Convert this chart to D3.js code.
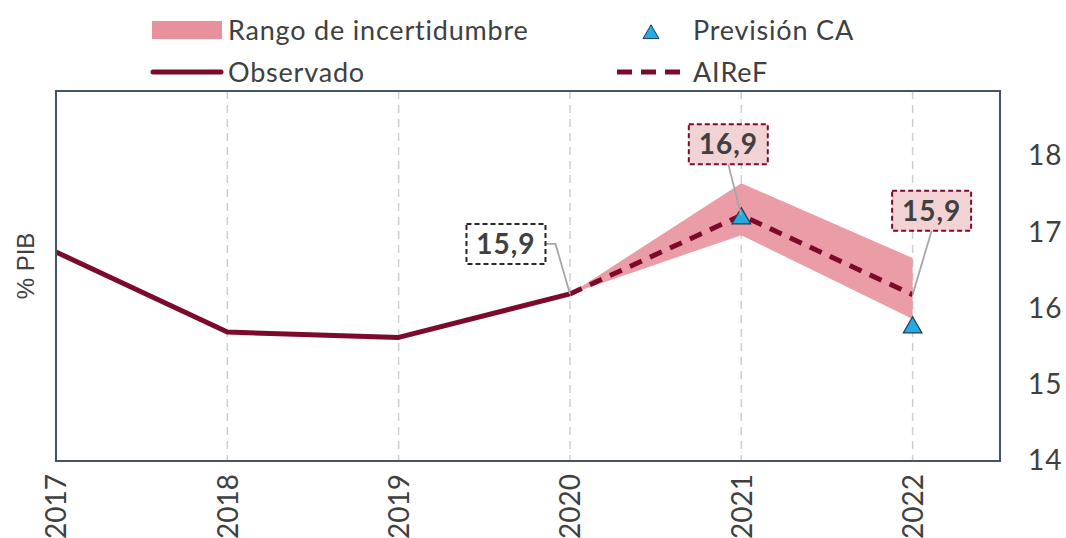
<!DOCTYPE html>
<html>
<head>
<meta charset="utf-8">
<script src="https://cdn.jsdelivr.net/npm/d3@7"></script>
<style>
  body { margin: 0; background: #fff; }
  svg { display: block; font-family: Lato, "Noto Sans", sans-serif; }
</style>
</head>
<body>
<div id="chart"></div>
<script>
// data
var years = [2017, 2018, 2019, 2020, 2021, 2022];
var observado = [
  {year: 2017, value: 16.74},
  {year: 2018, value: 15.69},
  {year: 2019, value: 15.62},
  {year: 2020, value: 16.19}
];
var airef = [
  {year: 2020, value: 16.19},
  {year: 2021, value: 17.22},
  {year: 2022, value: 16.18}
];
var rango = [
  {year: 2020, low: 16.19, high: 16.19},
  {year: 2021, low: 16.96, high: 17.64},
  {year: 2022, low: 15.86, high: 16.66}
];
var prevision = [
  {year: 2021, value: 17.18},
  {year: 2022, value: 15.75}
];
var yTicks = [14, 15, 16, 17, 18];
var etiquetas = [
  {year: 2020, value: 16.19, text: "15,9", tipo: "obs"},
  {year: 2021, value: 17.22, text: "16,9", tipo: "air"},
  {year: 2022, value: 16.18, text: "15,9", tipo: "air"}
];

var width = 1066, height = 538;
var margin = {top: 91, right: 66, bottom: 77, left: 56};
var w = width - margin.left - margin.right,
    h = height - margin.top - margin.bottom;

var darkRed = "#7c0a2b", pink = "#e8919d", blue = "#27a9e1";

var svg = d3.select("#chart").append("svg")
    .attr("width", width)
    .attr("height", height);

var g = svg.append("g")
    .attr("transform", "translate(" + margin.left + "," + margin.top + ")");

var x = d3.scaleLinear().domain([2017, 2022.51]).range([0, w]);
var y = d3.scaleLinear().domain([14, 18.85]).range([h, 0]);

// vertical grid
g.selectAll(".grid").data(years.slice(1)).enter().append("line")
    .attr("x1", function(d) { return x(d); })
    .attr("x2", function(d) { return x(d); })
    .attr("y1", 0).attr("y2", h)
    .attr("stroke", "#cfcfcf")
    .attr("stroke-width", 1.5)
    .attr("stroke-dasharray", "8,6");

// band
var area = d3.area()
    .x(function(d) { return x(d.year); })
    .y0(function(d) { return y(d.low); })
    .y1(function(d) { return y(d.high); });
g.append("path").datum(rango)
    .attr("d", area)
    .attr("fill", pink)
    .attr("opacity", 0.9);

var line = d3.line()
    .x(function(d) { return x(d.year); })
    .y(function(d) { return y(d.value); });

g.append("path").datum(observado)
    .attr("d", line)
    .attr("fill", "none")
    .attr("stroke", darkRed)
    .attr("stroke-width", 5)
    .attr("stroke-linejoin", "round");

g.append("path").datum(airef)
    .attr("d", line)
    .attr("fill", "none")
    .attr("stroke", darkRed)
    .attr("stroke-width", 5)
    .attr("stroke-dasharray", "13,9");

// triangles
var tri = d3.symbol().type(d3.symbolTriangle).size(150);
g.selectAll(".tri").data(prevision).enter().append("path")
    .attr("d", tri)
    .attr("transform", function(d) { return "translate(" + x(d.year) + "," + y(d.value) + ")"; })
    .attr("fill", blue)
    .attr("stroke", "#1f3a5a")
    .attr("stroke-width", 1.2);

// labels with leader lines
var boxOff = {
  2020: {dx: -64, dy: -50, lx: "right"},
  2021: {dx: -13, dy: -71, lx: "bottom"},
  2022: {dx: 19, dy: -84, lx: "bottom"}
};
var bw = 79, bh = 40;
etiquetas.forEach(function(d) {
  var px = x(d.year), py = y(d.value);
  var o = boxOff[d.year];
  var cx = px + o.dx, cy = py + o.dy;
  var pts;
  if (o.lx === "right") {
    pts = [[cx + bw / 2, cy], [cx + bw / 2 + 10, cy], [px, py]];
  } else {
    pts = [[cx, cy + bh / 2], [px, py]];
  }
  g.append("path")
      .attr("d", d3.line()(pts))
      .attr("fill", "none")
      .attr("stroke", "#a6a6a6")
      .attr("stroke-width", 1.8);
  g.append("rect")
      .attr("x", cx - bw / 2).attr("y", cy - bh / 2)
      .attr("width", bw).attr("height", bh)
      .attr("fill", d.tipo === "obs" ? "#fff" : "#f2d3d5")
      .attr("stroke", d.tipo === "obs" ? "#262626" : darkRed)
      .attr("stroke-width", 2)
      .attr("stroke-dasharray", "5,3");
  g.append("text")
      .attr("x", cx).attr("y", cy + 10)
      .attr("text-anchor", "middle")
      .style("font-size", "28px")
      .style("font-weight", "bold")
      .style("letter-spacing", "1px")
      .style("fill", "#404040")
      .text(d.text);
});

// frame
g.append("rect")
    .attr("width", w).attr("height", h)
    .attr("fill", "none")
    .attr("stroke", "#44546a")
    .attr("stroke-width", 2);

// y axis right
var yAxis = d3.axisRight(y).tickValues(yTicks).tickFormat(d3.format("d")).tickSize(0).tickPadding(28);
g.append("g")
    .attr("transform", "translate(" + w + ",0)")
    .call(yAxis)
    .call(function(s) { s.select(".domain").remove(); })
    .selectAll("text")
    .style("font-size", "28px")
    .style("font-family", "Lato, sans-serif")
    .style("letter-spacing", "1px")
    .style("fill", "#404040");

// x axis labels rotated
var xAxis = d3.axisBottom(x).tickValues(years).tickFormat(d3.format("d")).tickSize(0);
var xg = g.append("g")
    .attr("transform", "translate(0," + h + ")")
    .call(xAxis);
xg.select(".domain").remove();
xg.selectAll("text")
    .attr("transform", "rotate(-90)")
    .attr("x", -13).attr("y", 0).attr("dy", "0.35em")
    .attr("text-anchor", "end")
    .style("font-size", "28px")
    .style("font-family", "Lato, sans-serif")
    .style("fill", "#404040");

// y label
svg.append("text")
    .attr("transform", "translate(34,266) rotate(-90)")
    .attr("text-anchor", "middle")
    .style("font-family", "'Liberation Sans', Arial, sans-serif")
    .style("font-size", "24px")
    .style("fill", "#404040")
    .text("% PIB");

// legend
var legend = svg.append("g");
legend.append("rect")
    .attr("x", 152).attr("y", 21).attr("width", 70).attr("height", 18)
    .attr("fill", pink);
legend.append("text").attr("x", 228).attr("y", 40).text("Rango de incertidumbre");
legend.append("line")
    .attr("x1", 153).attr("x2", 221).attr("y1", 72).attr("y2", 72)
    .attr("stroke", darkRed).attr("stroke-width", 5).attr("stroke-linecap", "round");
legend.append("text").attr("x", 228).attr("y", 82).text("Observado");
legend.append("path")
    .attr("d", d3.symbol().type(d3.symbolTriangle).size(110))
    .attr("transform", "translate(651,34)")
    .attr("fill", blue).attr("stroke", "#1f3a5a").attr("stroke-width", 1);
legend.append("text").attr("x", 693).attr("y", 40).text("Previsión CA");
legend.append("line")
    .attr("x1", 617).attr("x2", 683).attr("y1", 72).attr("y2", 72)
    .attr("stroke", darkRed).attr("stroke-width", 5)
    .attr("stroke-dasharray", "15,9");
legend.append("text").attr("x", 693).attr("y", 82).text("AIReF");
legend.selectAll("text")
    .style("font-size", "27px")
    .style("letter-spacing", "0.8px")
    .style("fill", "#404040");
</script>
</body>
</html>
